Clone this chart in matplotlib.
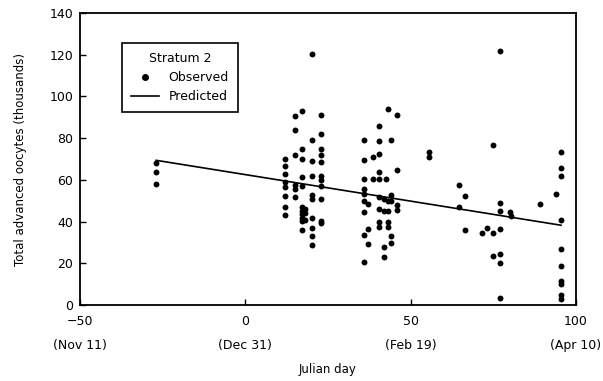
import matplotlib
matplotlib.use("Agg")
import matplotlib.pyplot as plt
from matplotlib.lines import Line2D

# observed points (Julian day, thousands of oocytes)
obs_day = [-27, -27, -27,
           12, 12, 12, 12, 12, 12, 12, 12,
           15, 15, 15, 15, 15, 15,
           17, 17, 17, 17, 17, 17, 17, 17, 17, 17, 17,
           18, 18, 18,
           20, 20, 20, 20, 20, 20, 20, 20, 20, 20,
           23, 23, 23, 23, 23, 23, 23, 23, 23, 23, 23,
           36, 36, 38.5, 40.5, 40.5, 40.5, 43, 46, 44, 46, 40.5,
           36, 38.5, 40.5, 42.5, 36, 36, 36, 37, 36, 37, 36, 37, 36,
           40.5, 42, 43, 44, 44, 46, 40.5, 42, 43, 46,
           40.5, 40.5, 43, 43, 42, 42, 44, 44,
           55.5, 55.5, 64.5, 66.5, 64.5, 66.5, 71.5, 73, 75, 77,
           75, 77, 77, 77, 80, 80.5, 75, 77, 77, 77, 89, 94,
           95.5, 95.5, 95.5, 95.5, 95.5, 95.5, 95.5, 95.5, 95.5, 95.5]
obs_val = [68, 64, 58,
           70, 66.5, 63, 59, 56.5, 52.5, 47, 43,
           90.5, 84, 72, 57.5, 55.5, 52,
           93, 75, 70, 61.5, 57, 47, 45, 43.5, 42, 40.5, 36,
           46, 44, 41,
           120.5, 79, 69, 62, 53, 51, 42, 37, 33, 29,
           91, 82, 75, 72, 68.5, 62, 60, 57, 51, 40.5, 39.5,
           79, 69.5, 71, 72.5, 78.5, 86, 94, 91, 79, 65, 64,
           60.5, 60.5, 60.5, 60.5, 55.5, 53.5, 50, 48.5, 44.5, 36.5, 33.5, 29.5, 20.5,
           52, 51, 50, 53, 50, 48, 46, 45, 45, 45.5,
           40, 37.5, 40, 37.5, 28, 23, 33, 30,
           73.5, 71, 57.5, 52.5, 47, 36, 34.5, 37, 34.5, 36.5,
           76.5, 122, 49, 45, 44.5, 42.5, 23.5, 24.5, 20, 3.5, 48.5, 53.5,
           73.5, 65.5, 62, 41, 27, 19, 11.5, 10, 5, 3]

# fitted line end points
pred_day = [-27, 95.5]
pred_val = [69.4, 38.3]

x_ticks = [-50, 0, 50, 100]
x_tick_labels = ["\u221250\n(Nov 11)", "0\n(Dec 31)", "50\n(Feb 19)", "100\n(Apr 10)"]
y_ticks = [0, 20, 40, 60, 80, 100, 120, 140]

plt.rcParams['font.family'] = ['DejaVu Sans']

fig = plt.figure(figsize=(6.03, 3.81), dpi=100)
ax = fig.add_axes([0.133, 0.199, 0.822, 0.767])

ax.scatter(obs_day, obs_val, s=18, color='black', linewidths=0, zorder=3)
ax.plot(pred_day, pred_val, color='black', linewidth=1.2, zorder=2)

ax.set_xlim(-50, 100)
ax.set_ylim(0, 140)
ax.set_xticks(x_ticks)
ax.set_xticklabels(x_tick_labels, fontsize=9, linespacing=2.1)
ax.set_yticks(y_ticks)
ax.tick_params(axis='y', labelsize=9, pad=5)
ax.tick_params(axis='x', pad=7)
ax.tick_params(direction='in', length=4, width=1)
for sp in ax.spines.values():
    sp.set_linewidth(1.3)

ax.set_xlabel("Julian day", fontsize=8.5, labelpad=8)
ax.set_ylabel("Total advanced oocytes (thousands)", fontsize=8.5, labelpad=16)

handles = [Line2D([], [], marker='o', color='black', linestyle='none', markersize=4),
           Line2D([], [], color='black', linewidth=1.2)]
leg = ax.legend(handles, ["Observed", "Predicted"], title="Stratum 2",
                loc='upper left', bbox_to_anchor=(0.085, 0.897), borderaxespad=0,
                fontsize=9, title_fontsize=9, fancybox=False, edgecolor='black',
                framealpha=1, handlelength=2.2, borderpad=0.7)
leg.get_frame().set_linewidth(1.2)

fig.savefig("out.png", dpi=100)
